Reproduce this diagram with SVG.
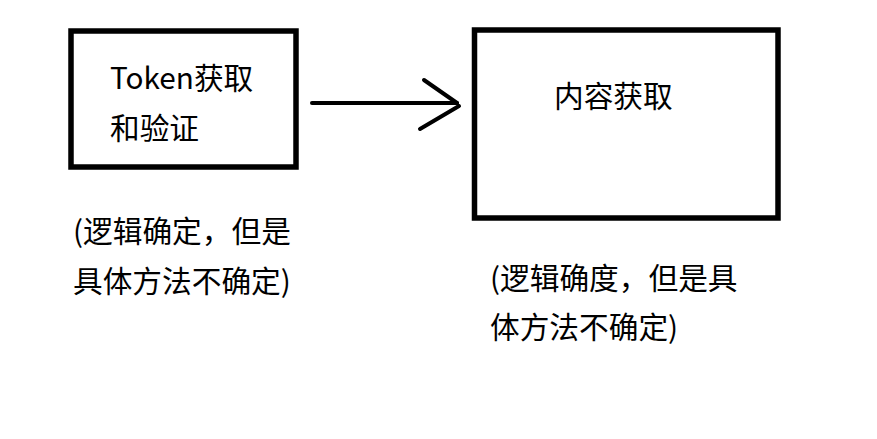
<svg xmlns="http://www.w3.org/2000/svg" width="877" height="439" viewBox="0 0 877 439">
<style>
.box{fill:#fff;stroke:#000;stroke-width:5.5}
.t{font-family:"Noto Sans CJK SC","Microsoft YaHei",sans-serif;font-size:29.7px;fill:#000}
.c{fill:none;stroke:#000;stroke-width:4;stroke-linecap:round}
</style>
<rect width="877" height="439" fill="#fff"/>
<g id="node-token">
<rect class="box" x="71" y="31" width="225" height="136"/>
<text class="t" x="110" y="89">Token获取</text>
<text class="t" x="110" y="139">和验证</text>
</g>
<g id="node-content">
<rect class="box" x="474.5" y="30" width="303.5" height="188"/>
<text class="t" x="554" y="107">内容获取</text>
</g>
<g id="note-left">
<text class="t" x="73" y="242">(逻辑确定，但是</text>
<text class="t" x="73" y="292">具体方法不确定)</text>
</g>
<g id="note-right">
<text class="t" x="490" y="289">(逻辑确度，但是具</text>
<text class="t" x="490" y="338">体方法不确定)</text>
</g>
<g id="connectors">
<line class="c" x1="312" y1="103" x2="457" y2="103"/>
<path class="c" d="M424 80 L457 103 M459 106 L420 129"/>
</g>
</svg>
